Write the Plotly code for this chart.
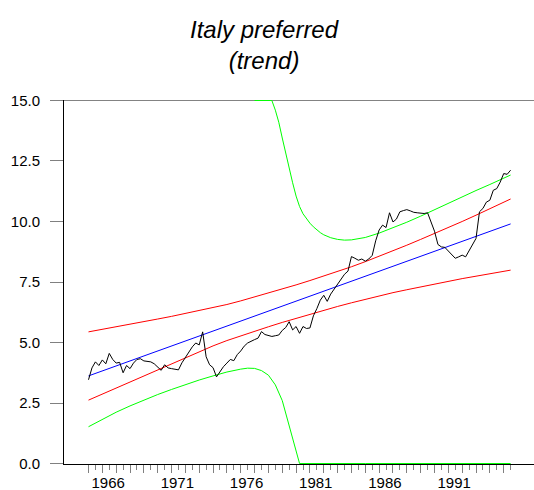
import plotly.graph_objects as go

# Quarterly series, 1965Q1 .. 1995Q3
first_year = 1965
preferred = [
    3.46, 3.95, 4.20, 4.05, 4.28, 4.12, 4.55, 4.30, 4.15, 4.18,
    3.75, 4.05, 3.92, 4.15, 4.30, 4.33, 4.24, 4.22, 4.20, 4.12,
    3.98, 3.85, 4.08, 3.95, 3.92, 3.90, 3.87, 4.16, 4.38, 4.58,
    4.82, 4.98, 4.90, 5.44, 4.41, 4.08, 3.96, 3.58, 3.80, 4.00,
    4.15, 4.30, 4.25, 4.50, 4.65, 4.85, 4.98, 5.06, 5.12, 5.18,
    5.45, 5.33, 5.28, 5.25, 5.28, 5.31, 5.50, 5.62, 5.86, 5.52,
    5.66, 5.38, 5.66, 5.58, 5.60, 6.10, 6.40, 6.75, 6.95, 6.70,
    7.00, 7.20, 7.45, 7.65, 7.82, 7.95, 8.55, 8.48, 8.40, 8.45,
    8.36, 8.45, 8.60, 9.20, 9.65, 9.85, 9.75, 10.36, 9.98, 10.10,
    10.40, 10.45, 10.49, 10.44, 10.38, 10.36, 10.34, 10.33, 10.36, 10.00,
    9.60, 9.05, 8.95, 8.93, 8.78, 8.60, 8.48, 8.54, 8.61, 8.54,
    8.80, 9.08, 9.30, 10.40, 10.54, 10.80, 10.88, 11.29, 11.36, 11.63,
    11.98, 11.95, 12.12,
]
quarters = [first_year + i / 4 for i in range(len(preferred))]

# Linear trend
trend_years = [1965, 1995.5]
trend = [3.62, 9.90]

# Inner band (red)
band_years = list(range(1965, 1996)) + [1995.5]
band_upper = [
    5.44, 5.54, 5.645, 5.75, 5.86, 5.97, 6.08, 6.20, 6.32, 6.44,
    6.57, 6.72, 6.88, 7.04, 7.21, 7.38, 7.56, 7.74, 7.93, 8.13,
    8.34, 8.56, 8.79, 9.02, 9.26, 9.50, 9.75, 10.00, 10.26, 10.52,
    10.79, 10.93,
]
band_lower = [
    2.62, 2.87, 3.12, 3.37, 3.62, 3.88, 4.14, 4.39, 4.63, 4.86,
    5.08, 5.28, 5.47, 5.65, 5.83, 6.00, 6.17, 6.33, 6.49, 6.64,
    6.79, 6.93, 7.06, 7.18, 7.30, 7.42, 7.53, 7.64, 7.74, 7.84,
    7.94, 7.99,
]

# Outer band (green), held inside the 0..15 window
outer_up_years = [1977.0, 1978.25, 1978.5, 1978.75, 1979.0, 1979.25, 1979.5,
                  1979.75, 1980.0, 1980.25, 1980.5, 1980.75, 1981.0, 1981.25,
                  1981.5, 1981.75, 1982.0, 1982.5, 1983.0, 1983.5, 1984.0,
                  1984.5, 1985.0, 1986.0, 1987.0, 1988.0, 1989.0, 1990.0,
                  1991.0, 1992.0, 1993.0, 1994.0, 1995.0, 1995.5]
outer_upper = [15.0, 15.0, 14.60, 14.10, 13.45, 12.80, 12.15,
               11.60, 11.05, 10.62, 10.32, 10.10, 9.93, 9.78,
               9.65, 9.54, 9.45, 9.33, 9.26, 9.23, 9.24,
               9.28, 9.34, 9.52, 9.74, 9.97, 10.22, 10.49,
               10.77, 11.02, 11.28, 11.53, 11.78, 11.92]
outer_lo_years = [1965, 1966, 1967, 1968, 1969, 1970, 1971, 1972, 1973,
                  1974, 1975, 1976, 1976.5, 1977, 1977.5, 1978, 1978.5,
                  1979, 1979.5, 1980.0, 1980.25, 1985, 1990, 1995.5]
outer_lower = [1.52, 1.83, 2.12, 2.38, 2.62, 2.85, 3.06, 3.26, 3.45,
               3.62, 3.78, 3.90, 3.94, 3.93, 3.84, 3.65, 3.25,
               2.60, 1.60, 0.55, 0.0, 0.0, 0.0, 0.0]

label_years = [1966, 1971, 1976, 1981, 1986, 1991]
y_ticks = [0, 2.5, 5, 7.5, 10, 12.5, 15]

GREY = "#808080"
TICK_FONT = dict(family="Liberation Sans, Arial, sans-serif", size=15, color="#000000")

fig = go.Figure()


def add_line(x, y, color):
    fig.add_trace(go.Scatter(x=x, y=y, mode="lines",
                             line=dict(color=color, width=1),
                             showlegend=False, hoverinfo="skip"))


add_line(outer_lo_years, outer_lower, "#00ff00")
add_line(outer_up_years, outer_upper, "#00ff00")
add_line(band_years, band_lower, "#ff0000")
add_line(band_years, band_upper, "#ff0000")
add_line(trend_years, trend, "#0000ff")
add_line(quarters, preferred, "#000000")

# invisible trace carrying the year labels on the overlaid axis
fig.add_trace(go.Scatter(x=[1965], y=[0], xaxis="x2", mode="markers",
                         marker=dict(opacity=0), showlegend=False,
                         hoverinfo="skip"))

x_range = [1963.23, 1997.19]

fig.update_layout(
    width=534, height=490,
    margin=dict(l=64, r=0, t=100, b=26, autoexpand=False),
    paper_bgcolor="white", plot_bgcolor="white",
    xaxis=dict(
        range=x_range, showgrid=False, zeroline=False, automargin=False,
        showline=True, linecolor="#000000", linewidth=1,
        layer="below traces",
        tickmode="array", tickvals=list(range(1965, 1996)),
        ticktext=[""] * 31,
        ticks="outside", ticklen=8, tickcolor=GREY, tickwidth=1,
        minor=dict(tickmode="array",
                   tickvals=[y + 0.5 for y in range(1965, 1996)],
                   ticks="outside", ticklen=5, tickcolor=GREY, tickwidth=1),
    ),
    xaxis2=dict(
        range=x_range, overlaying="x", side="bottom", anchor="y",
        showgrid=False, zeroline=False, showline=False, automargin=False,
        tickmode="array", tickvals=[y + 0.42 for y in label_years],
        ticktext=[str(y) for y in label_years],
        ticks="outside", ticklen=5, tickcolor="rgba(0,0,0,0)",
        tickfont=TICK_FONT,
    ),
    yaxis=dict(
        range=[-0.02, 15.02], showgrid=False, zeroline=False, automargin=False,
        showline=True, linecolor="#000000", linewidth=1,
        layer="below traces",
        tickmode="array", tickvals=y_ticks,
        ticktext=[f"{v:.1f}" for v in y_ticks],
        ticks="outside", ticklen=13, tickcolor=GREY, tickwidth=1,
        ticklabelstandoff=7,
        tickfont=TICK_FONT,
    ),
    shapes=[dict(type="line", xref="paper", yref="y",
                 x0=-13 / 470, x1=1, y0=15, y1=15,
                 line=dict(color=GREY, width=1), layer="below")],
    annotations=[dict(
        text="<i>Italy preferred</i><br><i>(trend)</i>",
        xref="paper", yref="paper",
        x=(264 - 64) / 470, y=1 + (100 - 45) / 364,
        xanchor="center", yanchor="middle", showarrow=False,
        font=dict(family="Liberation Sans Narrow, Arial Narrow, Liberation Sans, sans-serif",
                  size=24, color="#000000"),
    )],
)

fig.write_html("out.html")
